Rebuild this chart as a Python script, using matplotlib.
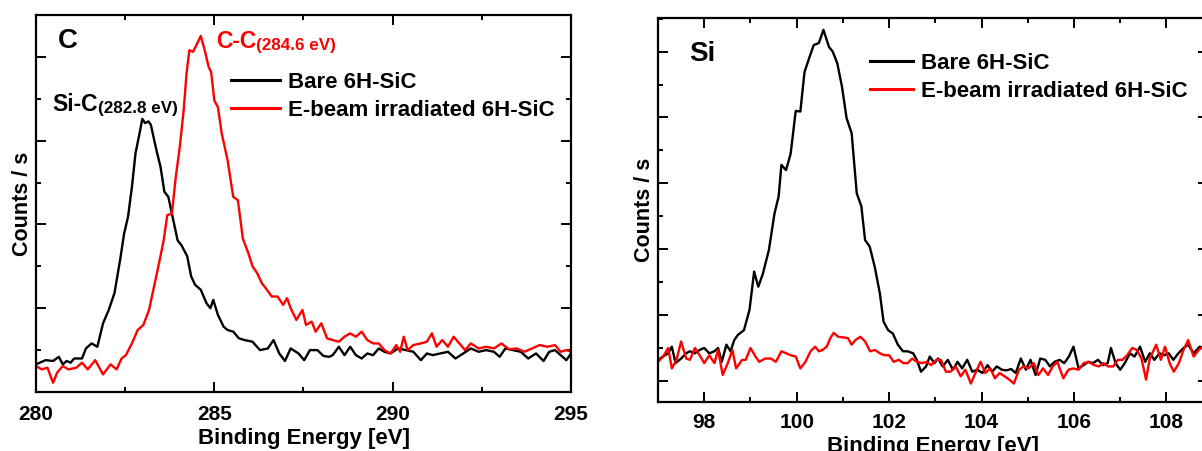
import matplotlib
matplotlib.use("Agg")
import matplotlib.pyplot as plt
from matplotlib.ticker import MultipleLocator, NullFormatter

plt.rcParams['font.family'] = ['Liberation Sans', 'DejaVu Sans']
plt.rcParams['font.weight'] = 'bold'

# ---------------- C 1s panel ----------------
c_bare_x = [280.00, 280.27, 280.48, 280.64, 280.75, 280.86, 280.97, 281.07, 281.29, 281.40,
            281.56, 281.72, 281.88, 282.04, 282.20, 282.36, 282.47, 282.58, 282.69, 282.79,
            282.90, 282.98, 283.06, 283.15, 283.22, 283.38, 283.49, 283.60, 283.71, 283.81,
            283.97, 284.08, 284.24, 284.35, 284.46, 284.62, 284.78, 284.89, 284.97, 285.10,
            285.26, 285.37, 285.53, 285.69, 285.85, 286.07, 286.28, 286.50, 286.66, 286.82,
            286.98, 287.14, 287.36, 287.52, 287.68, 287.89, 288.06, 288.22, 288.32, 288.49,
            288.65, 288.81, 288.97, 289.13, 289.29, 289.45, 289.61, 289.77, 289.94, 290.15,
            290.37, 290.58, 290.79, 290.96, 291.12, 291.33, 291.55, 291.76, 291.98, 292.19,
            292.41, 292.62, 292.84, 293.00, 293.16, 293.37, 293.59, 293.80, 294.02, 294.23,
            294.39, 294.55, 294.71, 294.87, 295.00]
c_bare_y = [0.33, 0.38, 0.37, 0.42, 0.33, 0.37, 0.35, 0.40, 0.40, 0.52,
            0.58, 0.54, 0.82, 0.98, 1.18, 1.58, 1.89, 2.09, 2.45, 2.85,
            3.08, 3.26, 3.21, 3.23, 3.19, 2.88, 2.69, 2.39, 2.33, 2.13,
            1.81, 1.75, 1.62, 1.38, 1.28, 1.22, 1.06, 1.00, 1.10, 0.92,
            0.78, 0.74, 0.72, 0.64, 0.62, 0.60, 0.50, 0.52, 0.62, 0.46,
            0.37, 0.52, 0.46, 0.38, 0.50, 0.50, 0.43, 0.42, 0.44, 0.54,
            0.44, 0.54, 0.44, 0.40, 0.46, 0.44, 0.52, 0.48, 0.46, 0.52,
            0.50, 0.48, 0.38, 0.46, 0.44, 0.46, 0.48, 0.40, 0.46, 0.52,
            0.48, 0.50, 0.48, 0.42, 0.52, 0.50, 0.48, 0.40, 0.46, 0.37,
            0.48, 0.50, 0.44, 0.38, 0.46]

c_irr_x = [280.00, 280.16, 280.32, 280.48, 280.59, 280.75, 280.91, 281.13, 281.29, 281.45,
           281.66, 281.88, 282.09, 282.26, 282.40, 282.52, 282.69, 282.85, 283.01, 283.17,
           283.33, 283.47, 283.58, 283.68, 283.81, 283.92, 284.03, 284.14, 284.22, 284.30,
           284.40, 284.51, 284.62, 284.73, 284.84, 284.91, 285.00, 285.10, 285.21, 285.37,
           285.53, 285.66, 285.80, 285.96, 286.07, 286.20, 286.33, 286.44, 286.61, 286.77,
           286.93, 287.04, 287.14, 287.30, 287.47, 287.57, 287.73, 287.84, 288.00, 288.16,
           288.32, 288.49, 288.65, 288.81, 288.97, 289.13, 289.29, 289.45, 289.61, 289.77,
           289.94, 290.10, 290.21, 290.31, 290.42, 290.58, 290.79, 290.96, 291.10, 291.23,
           291.39, 291.55, 291.71, 291.87, 292.03, 292.19, 292.41, 292.62, 292.84, 293.05,
           293.26, 293.48, 293.69, 293.91, 294.12, 294.34, 294.55, 294.71, 294.87, 295.00]
c_irr_y = [0.31, 0.27, 0.29, 0.11, 0.23, 0.31, 0.27, 0.29, 0.35, 0.27,
           0.38, 0.21, 0.33, 0.27, 0.40, 0.44, 0.58, 0.74, 0.80, 0.98,
           1.30, 1.58, 1.81, 2.11, 2.13, 2.57, 2.92, 3.36, 3.80, 4.08,
           4.06, 4.15, 4.25, 4.08, 3.88, 3.82, 3.48, 3.40, 3.08, 2.77,
           2.33, 2.29, 1.83, 1.65, 1.50, 1.42, 1.30, 1.24, 1.14, 1.14,
           1.04, 1.12, 1.00, 0.86, 0.98, 0.80, 0.84, 0.72, 0.82, 0.64,
           0.62, 0.60, 0.66, 0.70, 0.66, 0.72, 0.62, 0.58, 0.58, 0.50,
           0.46, 0.56, 0.48, 0.66, 0.50, 0.56, 0.58, 0.60, 0.70, 0.54,
           0.62, 0.54, 0.66, 0.58, 0.50, 0.58, 0.52, 0.54, 0.52, 0.58,
           0.51, 0.52, 0.48, 0.52, 0.56, 0.54, 0.56, 0.48, 0.50, 0.48]

c_xticks = [280, 285, 290, 295]

# ---------------- Si 2p panel ----------------
si_bare_x = [97.00, 97.11, 97.22, 97.30, 97.38, 97.50, 97.61, 97.69, 97.80, 97.90,
             98.00, 98.11, 98.22, 98.30, 98.38, 98.48, 98.57, 98.65, 98.73, 98.86,
             98.98, 99.08, 99.17, 99.27, 99.40, 99.52, 99.61, 99.67, 99.77, 99.87,
             99.98, 100.08, 100.17, 100.27, 100.37, 100.48, 100.58, 100.70, 100.78, 100.88,
             100.98, 101.08, 101.19, 101.30, 101.40, 101.48, 101.58, 101.69, 101.80, 101.88,
             101.98, 102.08, 102.19, 102.30, 102.40, 102.52, 102.60, 102.69, 102.80, 102.88,
             102.98, 103.06, 103.16, 103.27, 103.38, 103.48, 103.58, 103.69, 103.80, 103.91,
             104.02, 104.13, 104.23, 104.33, 104.44, 104.54, 104.64, 104.74, 104.85, 104.96,
             105.06, 105.17, 105.27, 105.38, 105.48, 105.58, 105.69, 105.79, 105.89, 105.99,
             106.10, 106.21, 106.31, 106.41, 106.52, 106.63, 106.73, 106.80, 106.90, 107.00,
             107.10, 107.21, 107.31, 107.43, 107.54, 107.64, 107.74, 107.85, 107.95, 108.05,
             108.15, 108.26, 108.37, 108.47, 108.59, 108.72, 108.79, 108.95]
si_bare_y = [1.32, 1.37, 1.42, 1.52, 1.27, 1.34, 1.42, 1.45, 1.42, 1.47,
             1.50, 1.42, 1.45, 1.50, 1.29, 1.55, 1.45, 1.62, 1.70, 1.77,
             2.08, 2.66, 2.43, 2.63, 2.99, 3.54, 3.80, 4.28, 4.20, 4.45,
             5.10, 5.09, 5.69, 5.90, 6.10, 6.13, 6.33, 6.07, 6.00, 5.82,
             5.47, 4.99, 4.76, 3.85, 3.65, 3.14, 3.04, 2.73, 2.33, 1.90,
             1.77, 1.72, 1.55, 1.45, 1.45, 1.42, 1.32, 1.14, 1.22, 1.37,
             1.27, 1.34, 1.22, 1.32, 1.17, 1.29, 1.19, 1.32, 1.14, 1.17,
             1.12, 1.24, 1.14, 1.22, 1.17, 1.16, 1.18, 1.12, 1.34, 1.17,
             1.32, 1.09, 1.34, 1.32, 1.22, 1.29, 1.32, 1.27, 1.37, 1.52,
             1.19, 1.24, 1.29, 1.27, 1.32, 1.24, 1.27, 1.50, 1.27, 1.17,
             1.27, 1.42, 1.37, 1.52, 1.29, 1.42, 1.32, 1.42, 1.39, 1.42,
             1.32, 1.42, 1.50, 1.55, 1.42, 1.52, 1.50, 1.45]

si_irr_x = [97.00, 97.11, 97.22, 97.30, 97.40, 97.50, 97.61, 97.69, 97.80, 97.90,
            98.00, 98.11, 98.22, 98.30, 98.40, 98.51, 98.61, 98.69, 98.82, 98.90,
            99.00, 99.11, 99.19, 99.32, 99.44, 99.55, 99.67, 99.77, 99.87, 99.98,
            100.08, 100.19, 100.30, 100.40, 100.48, 100.56, 100.65, 100.73, 100.80, 100.90,
            101.02, 101.11, 101.19, 101.27, 101.38, 101.48, 101.59, 101.69, 101.80, 101.90,
            102.00, 102.10, 102.21, 102.31, 102.40, 102.50, 102.60, 102.71, 102.81, 102.91,
            103.02, 103.12, 103.23, 103.33, 103.44, 103.55, 103.65, 103.77, 103.88, 103.98,
            104.08, 104.19, 104.29, 104.39, 104.50, 104.60, 104.70, 104.81, 104.91, 105.02,
            105.13, 105.23, 105.33, 105.44, 105.54, 105.64, 105.77, 105.88, 105.98, 106.10,
            106.21, 106.31, 106.44, 106.54, 106.64, 106.74, 106.85, 106.95, 107.05, 107.15,
            107.26, 107.36, 107.46, 107.56, 107.64, 107.78, 107.88, 107.97, 108.07, 108.16,
            108.27, 108.37, 108.47, 108.59, 108.70, 108.79, 108.95]
si_irr_y = [1.29, 1.37, 1.50, 1.19, 1.32, 1.60, 1.34, 1.32, 1.50, 1.39,
            1.27, 1.39, 1.27, 1.47, 1.09, 1.27, 1.47, 1.19, 1.32, 1.32,
            1.50, 1.37, 1.29, 1.34, 1.34, 1.29, 1.45, 1.42, 1.39, 1.37,
            1.19, 1.29, 1.45, 1.52, 1.45, 1.47, 1.52, 1.65, 1.73, 1.67,
            1.66, 1.65, 1.55, 1.62, 1.67, 1.60, 1.45, 1.47, 1.42, 1.39,
            1.39, 1.29, 1.32, 1.27, 1.27, 1.34, 1.29, 1.27, 1.29, 1.24,
            1.32, 1.32, 1.14, 1.14, 1.22, 1.07, 1.17, 0.96, 1.14, 1.29,
            1.12, 1.19, 1.04, 1.12, 1.07, 1.02, 0.96, 1.17, 1.22, 1.19,
            1.27, 1.09, 1.19, 1.09, 1.22, 1.29, 1.04, 1.17, 1.19, 1.17,
            1.27, 1.29, 1.24, 1.22, 1.27, 1.22, 1.22, 1.32, 1.32, 1.39,
            1.50, 1.47, 1.34, 1.02, 1.34, 1.55, 1.32, 1.52, 1.27, 1.14,
            1.27, 1.47, 1.62, 1.37, 1.47, 1.52, 1.48]

si_xticks = [98, 100, 102, 104, 106, 108]

series_labels = ["Bare 6H-SiC", "E-beam irradiated 6H-SiC"]
series_colors = ["black", "#ff0000"]

W, H = 1202, 451
fig = plt.figure(figsize=(W / 100, H / 100), dpi=100)

ax1 = fig.add_axes([36 / W, (H - 392) / H, (571 - 36) / W, (392 - 15) / H])
ax2 = fig.add_axes([658 / W, (H - 402) / H, (1208 - 658) / W, (402 - 18) / H])


def style(ax, xticks, xminor, ymajor, yminor, pad, xlabelpad):
    for s in ax.spines.values():
        s.set_linewidth(1.6)
        s.set_color('black')
    ax.set_xticks(xticks)
    ax.xaxis.set_minor_locator(MultipleLocator(xminor))
    ax.yaxis.set_major_locator(MultipleLocator(ymajor))
    ax.yaxis.set_minor_locator(MultipleLocator(yminor))
    ax.yaxis.set_major_formatter(NullFormatter())
    ax.tick_params(which='both', direction='in', top=True, right=True, width=1.4)
    ax.tick_params(which='major', length=7)
    ax.tick_params(which='minor', length=3.6)
    ax.tick_params(axis='x', which='major', labelsize=15, pad=pad)
    for lab in ax.get_xticklabels():
        lab.set_fontweight('bold')
    ax.set_xlabel("Binding Energy [eV]", fontsize=16, fontweight='bold', labelpad=xlabelpad)
    ax.set_ylabel("Counts / s", fontsize=15.5, fontweight='bold', labelpad=-1)


# Left: C
ax1.plot(c_bare_x, c_bare_y, color=series_colors[0], lw=1.7, label=series_labels[0])
ax1.plot(c_irr_x, c_irr_y, color=series_colors[1], lw=1.7, label=series_labels[1])
ax1.set_xlim(280, 295)
ax1.set_ylim(0, 4.5)
style(ax1, c_xticks, 2.5, 1.0, 0.5, 9.5, 3)

ax1.text(0.04, 0.93, "C", transform=ax1.transAxes, fontsize=20, fontweight='bold',
         va='center', ha='left')
t1 = ax1.text(280.45, 3.36, "Si-C", fontsize=16.5, fontweight='bold', color='black',
              ha='left', va='baseline')
ax1.annotate("(282.8 eV)", xy=(1, 0), xycoords=t1, fontsize=12.3, fontweight='bold',
             color='black', ha='left', va='bottom')
t2 = ax1.text(285.05, 4.11, "C-C", fontsize=16.5, fontweight='bold', color='#ff0000',
              ha='left', va='baseline')
ax1.annotate("(284.6 eV)", xy=(1, 0), xycoords=t2, fontsize=12.3, fontweight='bold',
             color='#ff0000', ha='left', va='bottom')

leg1 = ax1.legend(loc='upper left', bbox_to_anchor=(0.3645, 0.849), frameon=False,
                  prop={'size': 16, 'weight': 'bold'}, handlelength=2.2,
                  handletextpad=0.36, labelspacing=0.3, borderaxespad=0, borderpad=0)
for l in leg1.get_lines():
    l.set_linewidth(2.2)

# Right: Si
ax2.plot(si_bare_x, si_bare_y, color=series_colors[0], lw=1.7, label=series_labels[0])
ax2.plot(si_irr_x, si_irr_y, color=series_colors[1], lw=1.7, label=series_labels[1])
ax2.set_xlim(97, 108.9)
ax2.set_ylim(0.68, 6.51)
style(ax2, si_xticks, 1, 1.0, 0.5, 8, 2.5)
ax2.text(31 / 550, 0.905, "Si", transform=ax2.transAxes, fontsize=20, fontweight='bold',
         va='center', ha='left')
leg2 = ax2.legend(loc='upper left', bbox_to_anchor=((870 - 658) / 550, 0.909), frameon=False,
                  prop={'size': 16, 'weight': 'bold'}, handlelength=1.95,
                  handletextpad=0.36, labelspacing=0.3, borderaxespad=0, borderpad=0)
for l in leg2.get_lines():
    l.set_linewidth(2.2)

fig.savefig("out.png", dpi=100)
